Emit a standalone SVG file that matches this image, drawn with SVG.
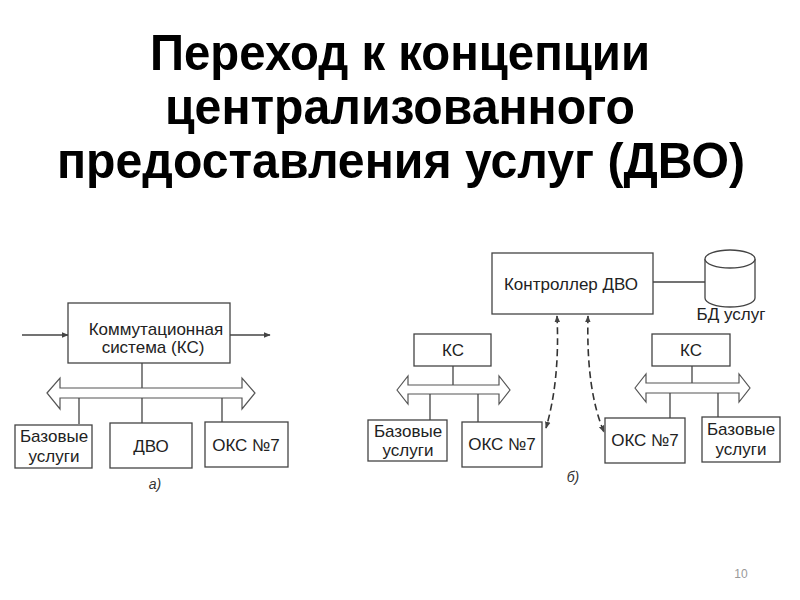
<svg xmlns="http://www.w3.org/2000/svg" width="800" height="600" viewBox="0 0 800 600">
<defs>
<style>
.title{font-family:"Liberation Sans","Noto Sans",sans-serif;font-weight:bold;font-size:50px;fill:#000;text-anchor:middle}
.box{fill:#fff;stroke:#444;stroke-width:1.3}
.lbl{font-family:"Liberation Sans","Noto Sans",sans-serif;font-size:17px;fill:#222;text-anchor:middle}
.cap{font-family:"Liberation Sans","Noto Sans",sans-serif;font-size:14px;font-style:italic;fill:#333;text-anchor:middle}
.ln{fill:none;stroke:#444;stroke-width:1.3}
.bus{fill:#fff;stroke:#555;stroke-width:1.2}
.dash{fill:none;stroke:#333;stroke-width:1.6;stroke-dasharray:7 4}
.pg{font-family:"Liberation Sans","Noto Sans",sans-serif;font-size:12px;fill:#999;text-anchor:middle}
</style>
<marker id="ah" viewBox="0 0 10 10" refX="9" refY="5" markerWidth="7" markerHeight="7" orient="auto-start-reverse" markerUnits="userSpaceOnUse">
<path d="M0,1 L10,5 L0,9 Z" fill="#444"/>
</marker>
</defs>
<rect width="800" height="600" fill="#fff"/>
<g id="title">
<text class="title" x="400" y="70" textLength="500" lengthAdjust="spacingAndGlyphs">Переход к концепции</text>
<text class="title" x="400" y="124" textLength="470" lengthAdjust="spacingAndGlyphs">централизованного</text>
<text class="title" x="401" y="178" textLength="688" lengthAdjust="spacingAndGlyphs">предоставления услуг (ДВО)</text>
</g>

<g id="connectors">
<!-- a) -->
<line class="ln" x1="22" y1="335" x2="68" y2="335" marker-end="url(#ah)"/>
<line class="ln" x1="230" y1="335" x2="270" y2="335" marker-end="url(#ah)"/>
<line class="ln" x1="142" y1="363" x2="142" y2="388"/>
<path class="bus" d="M47,393 L60,378 L60,388 L242,388 L242,378 L255,393 L242,409 L242,398 L60,398 L60,409 Z"/>
<line class="ln" x1="79" y1="398" x2="79" y2="424"/>
<line class="ln" x1="142" y1="398" x2="142" y2="423"/>
<line class="ln" x1="222" y1="398" x2="222" y2="422"/>
<!-- b) -->
<line class="ln" x1="653" y1="282" x2="705" y2="282"/>
<line class="ln" x1="453" y1="366" x2="453" y2="385"/>
<path class="bus" d="M397,390 L408,376 L408,385 L499,385 L499,376 L510,390 L499,404 L499,394 L408,394 L408,404 Z"/>
<line class="ln" x1="430" y1="394" x2="430" y2="420"/>
<line class="ln" x1="478" y1="394" x2="478" y2="422"/>
<line class="ln" x1="692" y1="366" x2="692" y2="383"/>
<path class="bus" d="M635,388 L646,374 L646,383 L739,383 L739,374 L750,388 L739,402 L739,393 L646,393 L646,402 Z"/>
<line class="ln" x1="670" y1="393" x2="670" y2="418"/>
<line class="ln" x1="718" y1="393" x2="718" y2="417"/>
<path class="dash" d="M557,316 Q560,380 546,428" marker-start="url(#ah)" marker-end="url(#ah)"/>
<path class="dash" d="M588,316 Q586,390 604,432" marker-start="url(#ah)" marker-end="url(#ah)"/>
</g>

<g id="ks-a">
<rect class="box" x="68" y="303" width="162" height="60"/>
<text class="lbl" x="156" y="335">Коммутационная</text>
<text class="lbl" x="153" y="353">система (КС)</text>
</g>
<g id="base-a">
<rect class="box" x="15" y="425" width="77" height="43"/>
<text class="lbl" x="54" y="442">Базовые</text>
<text class="lbl" x="54" y="462">услуги</text>
</g>
<g id="dvo-a">
<rect class="box" x="110" y="423" width="82" height="45"/>
<text class="lbl" x="151" y="452">ДВО</text>
</g>
<g id="oks-a">
<rect class="box" x="205" y="422" width="83" height="45"/>
<text class="lbl" x="246" y="451">ОКС №7</text>
</g>
<text class="cap" x="155" y="489">а)</text>

<g id="controller">
<rect class="box" x="492" y="253" width="161" height="61"/>
<text class="lbl" x="571" y="290">Контроллер ДВО</text>
</g>
<g id="db">
<path class="box" d="M705,259 L705,298 A25,9 0 0 0 755,298 L755,259"/>
<ellipse class="box" cx="730" cy="259" rx="25" ry="9"/>
<text class="lbl" x="731" y="320">БД услуг</text>
</g>
<g id="ks-b1">
<rect class="box" x="414" y="334" width="77" height="32"/>
<text class="lbl" x="453" y="356">КС</text>
</g>
<g id="base-b1">
<rect class="box" x="368" y="420" width="79" height="41"/>
<text class="lbl" x="408" y="437">Базовые</text>
<text class="lbl" x="408" y="456">услуги</text>
</g>
<g id="oks-b1">
<rect class="box" x="462" y="422" width="80" height="45"/>
<text class="lbl" x="502" y="450">ОКС №7</text>
</g>
<g id="ks-b2">
<rect class="box" x="652" y="334" width="78" height="32"/>
<text class="lbl" x="691" y="356">КС</text>
</g>
<g id="oks-b2">
<rect class="box" x="605" y="418" width="80" height="45"/>
<text class="lbl" x="645" y="446">ОКС №7</text>
</g>
<g id="base-b2">
<rect class="box" x="702" y="417" width="78" height="45"/>
<text class="lbl" x="741" y="435">Базовые</text>
<text class="lbl" x="741" y="455">услуги</text>
</g>
<text class="cap" x="573" y="482">б)</text>

<text class="pg" x="741" y="578">10</text>
</svg>
